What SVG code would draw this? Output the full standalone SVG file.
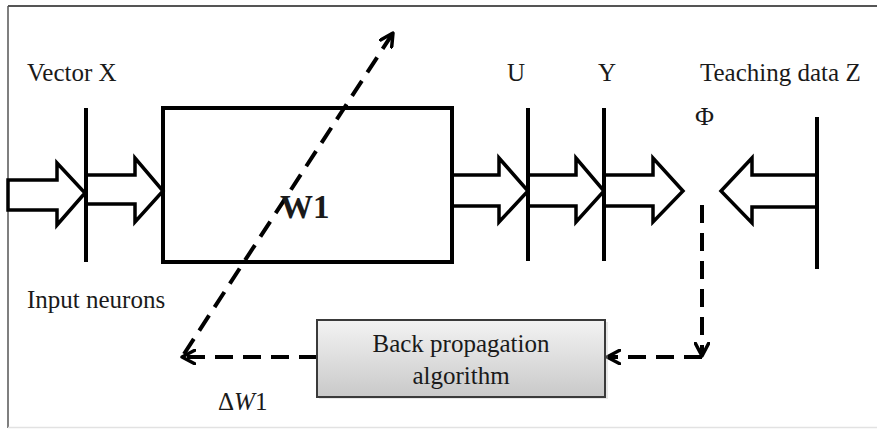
<svg xmlns="http://www.w3.org/2000/svg" width="877" height="429" viewBox="0 0 877 429">
<defs>
<linearGradient id="bpGrad" x1="0" y1="0" x2="0" y2="1">
<stop offset="0" stop-color="#f3f3f3"/>
<stop offset="1" stop-color="#c9c9c9"/>
</linearGradient>
<marker id="chev" viewBox="0 0 12 12" refX="10.5" refY="6" markerWidth="16" markerHeight="16" markerUnits="userSpaceOnUse" orient="auto">
<path d="M1,1 L10.5,6 L1,11" fill="none" stroke="#000" stroke-width="2.6" stroke-linecap="round" stroke-linejoin="round"/>
</marker>
</defs>
<style>
.txt{font-family:"Liberation Serif","Times New Roman",serif;font-size:25px;fill:#1a1a1a}
.blk{fill:#fff;stroke:#000;stroke-width:3.5;stroke-linejoin:miter}
.bar{stroke:#000;stroke-width:4;fill:none}
.dash{fill:none;stroke:#000;stroke-width:4;stroke-dasharray:18 10}
</style>
<rect x="0" y="0" width="877" height="429" fill="#fff"/>
<g id="frame">
<path d="M8,6 H877" stroke="#555" stroke-width="2" fill="none"/>
<path d="M8,6 V428" stroke="#555" stroke-width="1.5" fill="none"/>
<path d="M8,427.5 H877" stroke="#e2e2e2" stroke-width="1.5" fill="none"/>
</g>
<g id="connectors">
<path class="dash" d="M184,354 L393,33" marker-end="url(#chev)"/>
<path class="dash" d="M317,357 L182,357" marker-end="url(#chev)"/>
<path class="dash" d="M702,205 L702,356" marker-end="url(#chev)"/>
<path class="dash" d="M702,357 L607,357" marker-end="url(#chev)"/>
</g>
<g id="arrows">
<polygon class="blk" points="8,180 57,180 57,163 85,193 57,225 57,210 8,210"/>
<polygon class="blk" points="86,175 135,175 135,158 163,191 135,222 135,204 86,204"/>
<polygon class="blk" points="452,175 499,175 499,158 528,191 499,222 499,206 452,206"/>
<polygon class="blk" points="528,175 576,175 576,158 604,191 576,222 576,206 528,206"/>
<polygon class="blk" points="604,175 653,175 653,158 683,191 653,222 653,206 604,206"/>
<polygon class="blk" points="817,175 752,175 752,158 721,191 752,223 752,207 817,207"/>
</g>
<g id="vectorX">
<line class="bar" x1="86" y1="108" x2="86" y2="262"/>
<text class="txt" x="27" y="81">Vector X</text>
</g>
<g id="W1">
<rect class="bar" x="163" y="108" width="289" height="154"/>
<text class="txt" x="280" y="218" style="font-weight:bold;font-size:33px">W1</text>
</g>
<g id="U">
<line class="bar" x1="528" y1="108" x2="528" y2="261"/>
<text class="txt" x="507" y="81">U</text>
</g>
<g id="Y">
<line class="bar" x1="604" y1="108" x2="604" y2="261"/>
<text class="txt" x="598" y="81">Y</text>
</g>
<g id="teachingZ">
<line class="bar" x1="817" y1="117" x2="817" y2="269"/>
<text class="txt" x="700" y="81">Teaching data Z</text>
</g>
<g id="phi">
<text class="txt" x="695" y="125" style="font-size:26px">Φ</text>
</g>
<g id="inputNeurons">
<text class="txt" x="27" y="308">Input neurons</text>
</g>
<g id="backprop">
<rect x="319" y="322" width="289" height="77" fill="#bbb" opacity="0.35"/>
<rect x="317" y="320" width="288" height="77" fill="url(#bpGrad)" stroke="#3a3a3a" stroke-width="2"/>
<text class="txt" x="461" y="352" text-anchor="middle">Back propagation</text>
<text class="txt" x="461" y="384" text-anchor="middle">algorithm</text>
</g>
<g id="deltaW1">
<text class="txt" x="218" y="410">Δ<tspan font-style="italic">W</tspan>1</text>
</g>
</svg>
